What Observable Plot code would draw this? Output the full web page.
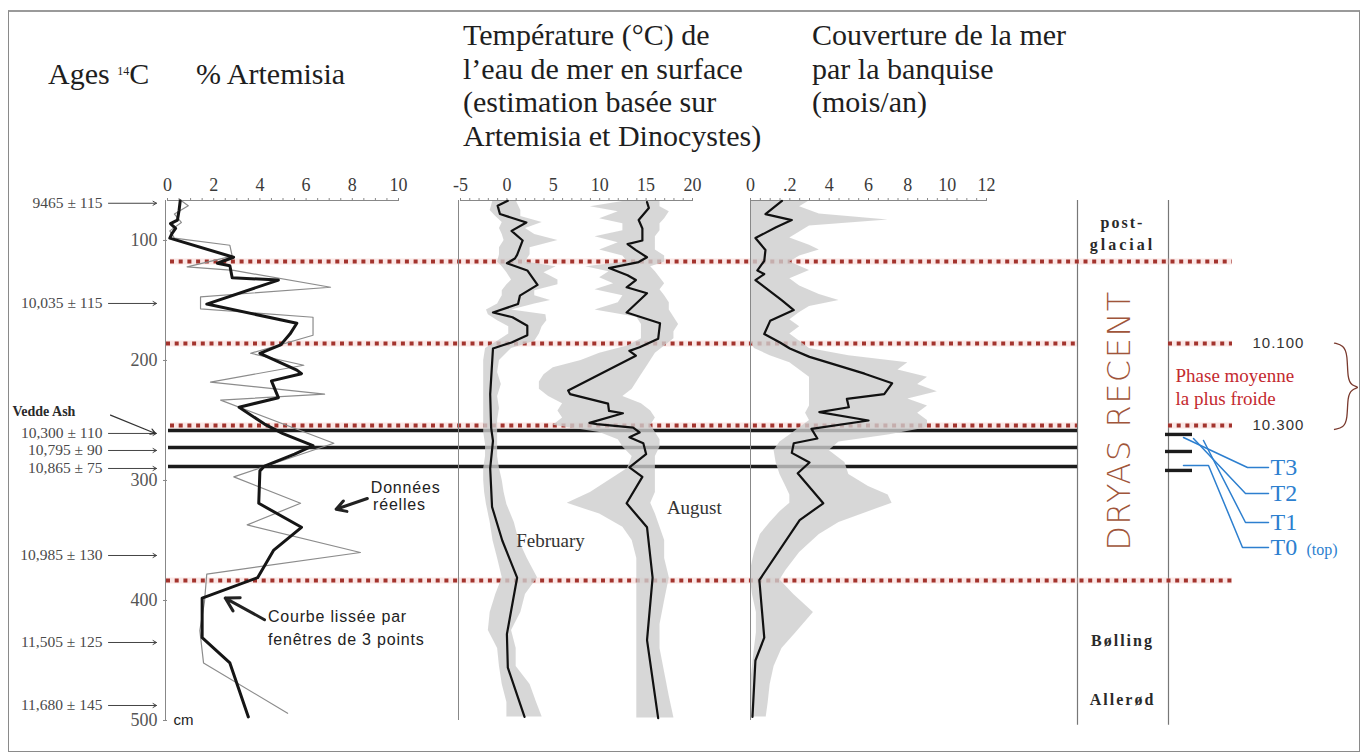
<!DOCTYPE html>
<html><head><meta charset="utf-8">
<script src="https://cdn.jsdelivr.net/npm/d3@7"></script>
<script src="https://cdn.jsdelivr.net/npm/@observablehq/plot@0.6"></script>
<style>
html,body{margin:0;padding:0;background:#fff;overflow:hidden}
#chart{position:relative;width:1365px;height:756px;background:#fff}
#chart > svg{position:absolute;left:0;top:0}
#frame{position:absolute;left:8px;top:10px;width:1352px;height:742px;border:1px solid #8a8a8a;border-top:2px solid #9a9a9a;box-sizing:border-box}
.t{position:absolute;font-family:"Liberation Serif",serif;font-size:30px;line-height:33.5px;color:#1e1e1e;white-space:nowrap}
.t sup{font-size:12px;vertical-align:top;position:relative;top:-2px}
</style></head><body><div id="chart"><div id="frame"></div></div>
<script>
// ---------------- DATA ----------------
const depthTicks = [100, 200, 300, 400, 500];
const artTicks = [0, 2, 4, 6, 8, 10];
const tempTicks = [-5, 0, 5, 10, 15, 20];
const iceTicks = [0, 2, 4, 6, 8, 10, 12];

// % Artemisia, smoothed (3-point window) and raw data
const artSmoothDepth = [67, 75, 83, 86, 90, 94, 98, 114, 119, 121, 131, 133, 153, 169, 178, 187, 194, 208, 211, 217, 231, 239, 253, 261, 271, 278, 288, 292, 319, 339, 358, 381, 398, 431, 452, 497];
const artSmoothValue = [0.55, 0.5, 0.43, 0.13, 0.35, 0.2, 0.1, 2.86, 2.16, 2.7, 2.8, 4.8, 1.7, 5.6, 5.3, 4.9, 4.0, 5.6, 5.8, 4.5, 4.8, 3.1, 4.2, 5.0, 6.3, 5.5, 4.2, 4.0, 3.95, 5.8, 4.6, 3.9, 1.5, 1.5, 2.7, 3.5];
const artRawDepth = [67, 71, 78, 85, 92, 98, 104, 113, 122, 125, 139, 147, 157, 164, 179, 194, 204, 218, 228, 233, 269, 297, 319, 337, 360, 378, 401, 425, 452, 494];
const artRawValue = [0.6, 0.9, 0.3, 0.6, 0.1, 0.3, 2.7, 2.8, 0.85, 2.87, 7.06, 1.43, 1.43, 6.3, 6.3, 3.6, 5.9, 1.86, 6.8, 2.3, 7.2, 2.87, 5.76, 3.45, 8.35, 1.7, 1.6, 1.4, 1.56, 5.2];

// Sea-surface temperature, February and August
const febDepth = [67, 71, 78, 85, 92, 100, 112, 115, 119, 125, 137, 146, 153, 160, 164, 171, 179, 185, 190, 228, 256, 267, 290, 322, 350, 381, 428, 456, 497];
const febValue = [0.1, -1.0, -0.75, 2.1, 0.5, 1.7, 1.1, 0.86, 0, 2.2, 3.3, 1.4, 1.2, -1.5, 0.6, 2.2, 2.2, 0.5, -1.5, -1.8, -1.7, -1.5, -1.8, -1.6, -0.5, 1.1, 0, 0.1, 1.9];
const augDepth = [68, 73, 83, 90, 100, 103, 108, 114, 118, 123, 129, 133, 139, 144, 160, 169, 182, 189, 192, 196, 225, 228, 236, 242, 244, 252, 253, 256, 260, 264, 269, 278, 289, 297, 319, 339, 381, 433, 498];
const augValue = [15.1, 15.3, 14.2, 14.6, 14.6, 13.0, 13.9, 15.1, 14.2, 11.0, 13.0, 13.9, 12.9, 15.1, 12.9, 16.5, 16.3, 14.3, 13.2, 13.9, 6.6, 6.8, 10.9, 11.0, 12.5, 8.9, 9.7, 13.6, 14.3, 13.2, 14.7, 15.0, 13.2, 14.6, 12.9, 15.1, 15.7, 15.1, 16.3];

// envelopes (grey ranges)
const febEnvDepth = [67, 75, 80, 85, 90, 95, 100, 106, 112, 118, 122, 127, 133, 137, 142, 146, 150, 153, 158, 162, 167, 172, 178, 184, 190, 200, 210, 220, 230, 240, 250, 260, 270, 280, 290, 300, 310, 320, 335, 350, 365, 381, 395, 410, 425, 440, 455, 470, 485, 497];
const febEnvLo = [-1.5, -1.8, -1.2, -0.5, -0.8, -0.5, -0.3, -0.8, -0.8, -1, -0.5, 0, 0.5, 0, -0.5, -0.5, -0.8, -1, -2.2, -2, -1, 0.2, 0.2, -1, -2.3, -2.5, -2.5, -2.5, -2.5, -2.5, -2.5, -2.5, -2.3, -2.3, -2.5, -2.5, -2.4, -2.2, -1.8, -1.5, -1, -0.5, -1.2, -1.8, -2, -1, -0.8, -0.5, 0, 0];
const febEnvHi = [1, 1.5, 1.5, 3.8, 2, 3, 5.5, 2.5, 2.5, 2, 5.3, 4, 5.5, 5.5, 3, 3, 4.7, 3, 0.5, 4.2, 4.3, 3.8, 3.5, 3, 0.5, -0.8, -1, -0.6, -1, -0.8, -1, -1, -1, -1, -0.8, -0.5, -0.3, 0, 0.8, 1.3, 2.2, 3.3, 2, 1.5, 0.5, 1, 1, 2.5, 3.2, 3.8];
const augEnvDepth = [67, 72, 76, 82, 86, 92, 97, 102, 108, 113, 118, 122, 126, 131, 136, 141, 146, 152, 158, 164, 170, 176, 182, 188, 194, 200, 206, 212, 218, 224, 230, 236, 242, 248, 254, 260, 266, 272, 280, 290, 300, 310, 319, 328, 339, 350, 365, 381, 400, 420, 440, 460, 480, 498];
const augEnvLo = [13, 9, 12, 10, 12.5, 12.5, 9.5, 12, 10, 12.5, 13, 8.5, 11, 10, 11.5, 9.5, 12.5, 12, 9.5, 14, 14.5, 14.5, 14.5, 13, 10, 8, 5, 4, 3.5, 3.5, 4.5, 6, 5.5, 6, 5, 10, 12, 12.5, 13.5, 13, 11, 9, 6.5, 10, 12.5, 13.5, 14, 14, 14, 14, 14, 14, 14, 14];
const augEnvHi = [16.5, 16.5, 17.5, 17, 16.5, 16.5, 16, 16, 16, 17, 17, 15.5, 16, 16.5, 17, 16.5, 17, 17.5, 17.5, 18, 18.5, 18, 18, 17, 16, 15.5, 15, 14.5, 14, 13.5, 12.5, 14.5, 15.5, 16, 15.5, 16, 16.5, 16.5, 16, 16, 16, 16, 15.5, 16, 16.5, 17, 17, 17.5, 17, 16.5, 16.5, 17, 17.5, 18];

// Sea-ice cover (months/year)
const iceDepth = [67, 78, 83, 89, 98, 108, 117, 125, 128, 133, 150, 158, 167, 178, 185, 190, 197, 211, 219, 228, 232, 239, 243, 250, 257, 265, 269, 277, 285, 294, 319, 333, 383, 431, 450, 497];
const iceValue = [1.6, 0.76, 2.1, 1.3, 0.25, 0.76, 0.7, 0.35, 0.7, 0.25, 1.6, 2.2, 1.0, 0.7, 1.5, 2.0, 3.0, 5.8, 7.2, 6.8, 4.9, 5.0, 3.5, 6.0, 3.1, 3.4, 2.2, 2.1, 3.0, 2.4, 3.7, 2.5, 0.45, 0.7, 0.25, 0.1];
const iceEnvDepth = [67, 72, 78, 83, 88, 93, 98, 104, 108, 113, 118, 125, 132, 138, 145, 150, 155, 160, 166, 172, 178, 184, 190, 196, 202, 208, 214, 220, 226, 232, 238, 244, 250, 256, 262, 268, 275, 285, 295, 305, 312, 319, 326, 335, 345, 360, 375, 383, 395, 410, 427, 440, 455, 470, 485, 497];
const iceEnvLo = [0, 0, 0, 0, 0, 0, 0, 0, 0, 0, 0, 0, 0, 0, 0, 0, 0, 0, 0, 0, 0, 0, 0.2, 1, 2, 2.5, 3, 3, 3, 3, 3, 2.8, 3, 2.5, 2, 1.5, 1.2, 1.3, 1.5, 1.8, 2, 2, 1.5, 1, 0.5, 0.2, 0, 0, 0.1, 0.3, 0.3, 0.2, 0.1, 0, 0, 0];
const iceEnvHi = [3, 2.5, 3.5, 7, 3, 2.5, 2, 3, 3.5, 2.5, 2, 3, 2, 2.5, 3.5, 4.5, 3, 2.5, 2, 2.5, 2, 2.5, 3, 5, 8, 7.5, 9, 8.5, 9.5, 8, 9, 8.5, 9, 9, 7, 4.5, 4, 4.8, 5, 6, 7, 7.2, 6, 4.5, 3.5, 2.5, 1.8, 1.5, 2.2, 3.2, 2.3, 1.6, 1.2, 1, 0.9, 0.8];

// 14C ages and their depths (cm)
const ageLabels = ["9465 ± 115", "10,035 ± 115", "10,300 ± 110", "10,795 ± 90", "10,865 ± 75", "10,985 ± 130", "11,505 ± 125", "11,680 ± 145"];
const ageDepths = [69, 152.5, 260.8, 275, 290, 362.5, 435, 487.5];
const veddeDepth = 242.5;

// boundaries
const boundaryDepths = [117.5, 185.8, 254.2, 383.3];   // red dotted
const tephraDepths = [258.3, 272.5, 288.3];            // black lines (T3..T0)
const boundaryAges = ["10.100", "10.300"];

// zones
const zoneNames = ["post-", "glacial", "DRYAS RECENT", "Bølling", "Allerød"];
const zoneDepths = [85, 104, 250, 433.5, 483];

// tephra labels
const tNames = ["T3", "T2", "T1", "T0"];
const tLabelDepths = [289.2, 310.8, 335, 355.8];
const tStartDepths = [264.2, 265, 266.7, 287.5];

// ---------------- LAYOUT ----------------
const W = 1365, H = 756;
const yDomain = [66.7, 500];
const baseStyle = {background: "transparent", overflow: "visible", fontFamily: "'Liberation Serif', serif", fontSize: "18px", color: "#444"};
const zipL = (ds, vs) => ds.map((d, i) => ({d, v: vs[i]}));
const zipE = (ds, lo, hi) => ds.map((d, i) => ({d, lo: lo[i], hi: hi[i]}));
const chart = document.getElementById("chart");
const envFill = "#cdcdcd";

function panel(xDomain, left, right, marks) {
  return Plot.plot({
    width: W, height: H, marginTop: 200, marginBottom: 36,
    marginLeft: left, marginRight: W - right,
    x: {domain: xDomain, axis: null},
    y: {domain: yDomain, reverse: true, axis: null},
    style: baseStyle,
    marks
  });
}
function topAxis(ticks, minor, fmt) {
  return [
    Plot.ruleY([yDomain[0]], {stroke: "#888", strokeWidth: 1}),
    Plot.axisX({anchor: "top", ticks: minor, tickSize: 3, tickFormat: () => "", stroke: "#888", label: null}),
    Plot.axisX({anchor: "top", ticks, tickSize: 0, tickPadding: 10, fontSize: 18, tickFormat: fmt || (d => d), label: null, fill: "#3a3a3a"})
  ];
}

// ---------- background layout plot (boundaries, ages, zones) ----------
const L = {main0: 166, mainEnd: 1077, zoneR: 1168, rightEnd: 1232};
const redSegs = [
  {d: boundaryDepths[0], x1: L.main0 + 4, x2: L.rightEnd},
  {d: boundaryDepths[1], x1: L.main0, x2: L.mainEnd}, {d: boundaryDepths[1], x1: L.zoneR, x2: L.rightEnd},
  {d: boundaryDepths[2], x1: L.main0 + 4, x2: L.mainEnd}, {d: boundaryDepths[2], x1: L.zoneR, x2: L.rightEnd},
  {d: boundaryDepths[3], x1: L.main0, x2: L.rightEnd}
];
const tephraMain = tephraDepths.map(d => ({d, x1: L.main0 + 2, x2: L.mainEnd}));
const tephraRight = tephraDepths.map(d => ({d, x1: 1165, x2: 1192}));
const leaders = [];
const tStartX = [1183, 1193, 1203, 1183];
const tElbowX = [1247, 1245, 1245, 1242];
tNames.forEach((t, i) => {
  leaders.push({t, x: tStartX[i], d: tStartDepths[i]});
  if (t === "T0") leaders.push({t, x: 1208, d: tStartDepths[i]});
  leaders.push({t, x: tElbowX[i], d: tLabelDepths[i]});
  leaders.push({t, x: 1268, d: tLabelDepths[i]});
});
const braceX = [1334, 1343, 1347, 1347, 1351, 1360, 1351, 1347, 1347, 1343, 1334];
const braceD = [185.5, 187.5, 195, 215, 221, 222.5, 224, 230, 249, 256, 257.5];
const brace = braceX.map((x, i) => ({x, d: braceD[i]}));

const layout = Plot.plot({
  width: W, height: H, marginTop: 200, marginBottom: 36, marginLeft: 0, marginRight: 0,
  x: {domain: [0, W], axis: null},
  y: {domain: yDomain, reverse: true, axis: null},
  style: baseStyle,
  marks: [
    // zone column
    Plot.ruleX([L.mainEnd, L.zoneR], {y1: yDomain[0], y2: 504, stroke: "#777", strokeWidth: 1.2}),
    // red dotted boundaries
    Plot.ruleY(redSegs, {y: "d", x1: "x1", x2: "x2", stroke: "#f0b4ae", strokeWidth: 6, strokeOpacity: 0.3}),
    Plot.ruleY(redSegs, {y: "d", x1: "x1", x2: "x2", stroke: "#a3342e", strokeWidth: 4, strokeDasharray: "4,4.7"}),
    // tephra lines
    Plot.ruleY(tephraMain, {y: "d", x1: "x1", x2: "x2", stroke: "#1c1c1c", strokeWidth: 3.4}),
    Plot.ruleY(tephraRight, {y: "d", x1: "x1", x2: "x2", dy: 4, stroke: "#1c1c1c", strokeWidth: 3.4}),
    // ages
    Plot.text(ageLabels, {x: 102, y: (d, i) => ageDepths[i], text: d => d, textAnchor: "end", fontSize: 15.5, fill: "#4a4a4a"}),
    Plot.arrow(ageDepths, {x1: 108, x2: 156, y1: d => d, y2: d => d, stroke: "#444", strokeWidth: 1, headLength: 6}),
    Plot.text(["Vedde Ash"], {x: 12, y: veddeDepth, textAnchor: "start", fontSize: 14, fontWeight: "bold", fill: "#2a2a2a"}),
    Plot.arrow([veddeDepth], {x1: 110, x2: 155, y1: d => d + 3, y2: ageDepths[2], stroke: "#333", strokeWidth: 1.2, headLength: 7}),
    // zones
    Plot.text(zoneNames.filter(z => z !== "DRYAS RECENT"), {x: 1122, y: d => zoneDepths[zoneNames.indexOf(d)], text: d => d, fontSize: 16, fontWeight: "bold", fill: "#2a2a2a"}),
    Plot.text(["DRYAS RECENT"], {x: 1119, y: zoneDepths[2], rotate: -90, fontSize: 32, fontFamily: "'DejaVu Sans', sans-serif", fontWeight: 200, fill: "#a0553a"}),
    // right annotations
    Plot.text(boundaryAges, {x: 1252, y: (d, i) => boundaryDepths[i + 1], text: d => d, textAnchor: "start", fontSize: 15, fontFamily: "'Liberation Sans', sans-serif", fill: "#333"}),
    Plot.text(["Phase moyenne", "la plus froide"], {x: 1175, y: (d, i) => [212.5, 231.7][i], text: d => d, textAnchor: "start", fontSize: 19, fill: "#c42a2f"}),
    Plot.line(brace, {x: "x", y: "d", curve: "basis", stroke: "#7a3a2e", strokeWidth: 1.3}),
    Plot.line(leaders, {x: "x", y: "d", z: "t", stroke: "#2d7fcf", strokeWidth: 1.5}),
    Plot.text(tNames, {x: 1270, y: (d, i) => tLabelDepths[i], text: d => d, textAnchor: "start", fontSize: 24, fill: "#2d7fcf"}),
    Plot.text(["(top)"], {x: 1306, y: tLabelDepths[3], textAnchor: "start", dy: 2, fontSize: 16, fill: "#2d7fcf"})
  ]
});
chart.appendChild(layout);
const spacing = {"post-": 2, "glacial": 3, "Bølling": 2, "Allerød": 2, "DRYAS RECENT": 1.5, "10.100": 1, "10.300": 1};
d3.select(layout).selectAll("text").each(function () {
  const s = spacing[this.textContent];
  if (s) this.setAttribute("letter-spacing", s);
});

// ---------- Artemisia panel ----------
const art = panel([0, 10], 167, 398, [
  ...topAxis(artTicks, d3.range(0, 10.01, 0.5)),
  Plot.ruleX([0], {dx: -2, stroke: "#888"}),
  Plot.axisY({anchor: "left", ticks: depthTicks, tickSize: 4, tickPadding: 6, fontSize: 18, stroke: "#888", fill: "#555", label: null}),
  Plot.text(["cm"], {x: 0, y: 500, dx: 6, textAnchor: "start", fontSize: 15, fontFamily: "'Liberation Sans', sans-serif", fill: "#222"}),
  Plot.line(zipL(artRawDepth, artRawValue), {x: "v", y: "d", stroke: "#8c8c8c", strokeWidth: 1.2}),
  Plot.line(zipL(artSmoothDepth, artSmoothValue), {x: "v", y: "d", stroke: "#151515", strokeWidth: 3}),
  Plot.text(["Données", "réelles"], {x: (d, i) => [8.8, 8.9][i], y: (d, i) => [306, 320][i], text: d => d, textAnchor: "start", fontSize: 16, fontFamily: "'Liberation Sans', sans-serif", fill: "#222"}),
  Plot.arrow([0], {x1: 8.65, y1: 315, x2: 7.3, y2: 324, stroke: "#222", strokeWidth: 3, headLength: 10}),
  Plot.text(["Courbe lissée par", "fenêtres de 3 points"], {x: 4.35, y: (d, i) => [414, 433][i], text: d => d, textAnchor: "start", fontSize: 16, fontFamily: "'Liberation Sans', sans-serif", fill: "#222"}),
  Plot.arrow([0], {x1: 4.2, y1: 416, x2: 2.5, y2: 398, stroke: "#222", strokeWidth: 3, headLength: 10})
]);
chart.appendChild(art);
d3.select(art).selectAll("text").each(function () {
  if (["Données", "réelles", "Courbe lissée par", "fenêtres de 3 points"].includes(this.textContent)) this.setAttribute("letter-spacing", 0.8);
});

// ---------- Temperature panel ----------
const temp = panel([-5, 20], 460, 692, [
  Plot.areaX(zipE(febEnvDepth, febEnvLo, febEnvHi), {y: "d", x1: "lo", x2: "hi", fill: envFill, fillOpacity: 0.8}),
  Plot.areaX(zipE(augEnvDepth, augEnvLo, augEnvHi), {y: "d", x1: "lo", x2: "hi", fill: envFill, fillOpacity: 0.8}),
  ...topAxis(tempTicks, d3.range(-5, 20.01, 1)),
  Plot.ruleX([-5], {dx: -2, stroke: "#888"}),
  Plot.line(zipL(febDepth, febValue), {x: "v", y: "d", stroke: "#111", strokeWidth: 2.2}),
  Plot.line(zipL(augDepth, augValue), {x: "v", y: "d", stroke: "#111", strokeWidth: 2.2}),
  Plot.text(["February", "August"], {x: (d, i) => [4.7, 20.2][i], y: (d, i) => [350, 323][i], text: d => d, fontSize: 19, fill: "#333"})
]);
chart.appendChild(temp);

// ---------- Sea-ice panel ----------
const ice = panel([0, 12], 750, 986, [
  Plot.areaX(zipE(iceEnvDepth, iceEnvLo, iceEnvHi), {y: "d", x1: "lo", x2: "hi", fill: envFill, fillOpacity: 0.8}),
  ...topAxis(iceTicks, d3.range(0, 12.01, 0.5), d => d === 2 ? ".2" : d),
  Plot.ruleX([0], {stroke: "#888"}),
  Plot.line(zipL(iceDepth, iceValue), {x: "v", y: "d", stroke: "#111", strokeWidth: 2.2})
]);
chart.appendChild(ice);

// ---------- Titles ----------
const titles = [
  {left: 48, top: 57, html: "Ages <sup>14</sup>C"},
  {left: 196, top: 57, html: "% Artemisia"},
  {left: 463, top: 18, html: "Température (°C) de<br>l’eau de mer en surface<br>(estimation basée sur<br>Artemisia et Dinocystes)"},
  {left: 812, top: 18, html: "Couverture de la mer<br>par la banquise<br>(mois/an)"}
];
titles.forEach(t => {
  const div = document.createElement("div");
  div.className = "t";
  div.style.left = t.left + "px";
  div.style.top = t.top + "px";
  div.innerHTML = t.html;
  chart.appendChild(div);
});
</script></body></html>
